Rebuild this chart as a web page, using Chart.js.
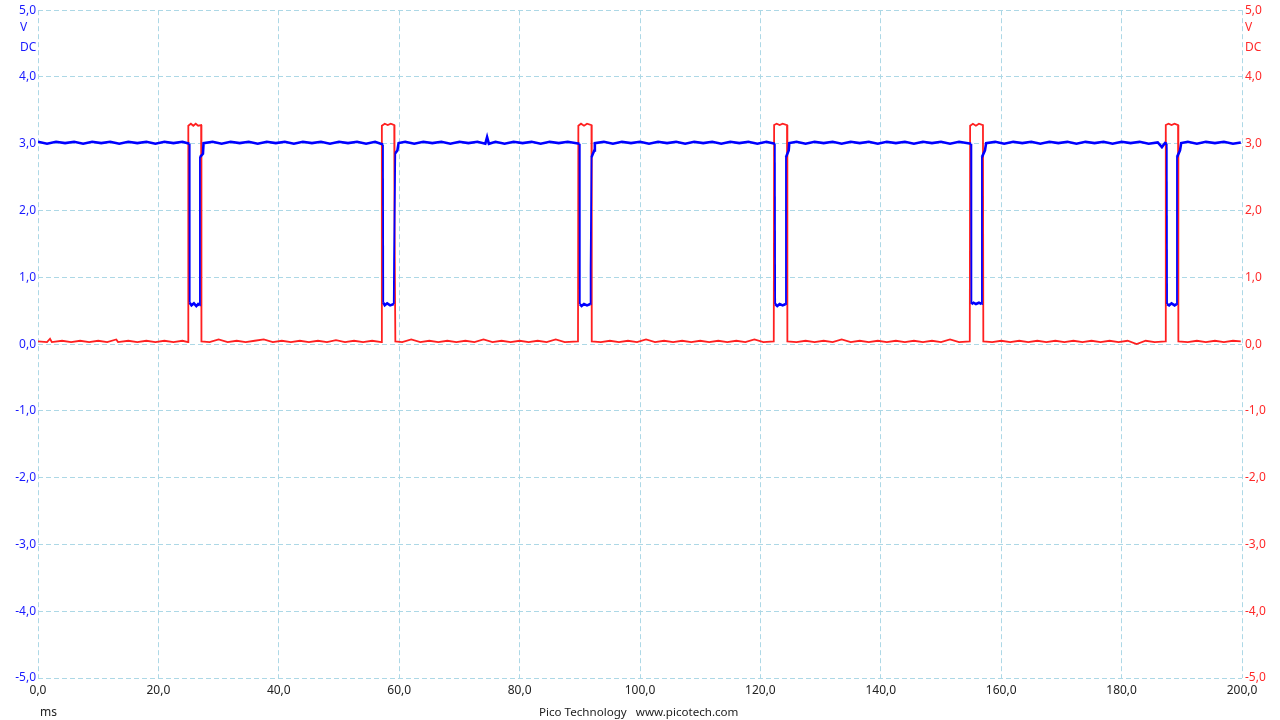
<!DOCTYPE html>
<html>
<head>
<meta charset="utf-8">
<script src="https://cdn.jsdelivr.net/npm/chart.js@4.4.1/dist/chart.umd.min.js"></script>
<style>
  html, body { margin: 0; padding: 0; background: #fff; }
  #wrap { position: relative; width: 1280px; height: 720px; font-family: "Noto Sans", sans-serif; font-size: 12px; }
  .lbl { position: absolute; line-height: 14px; white-space: pre; }
  .blue { color: #1a1aff; }
  .red { color: #ff2a2a; }
</style>
</head>
<body>
<div id="wrap">
  <canvas id="scopeChart" width="1280" height="720"></canvas>
  <div class="lbl blue" style="left: 20px; top: 20px">V</div>
  <div class="lbl blue" style="left: 20px; top: 40px">DC</div>
  <div class="lbl red" style="left: 1245px; top: 20px">V</div>
  <div class="lbl red" style="left: 1245px; top: 40px">DC</div>
  <div class="lbl" style="left: 40px; top: 705px; color: #222">ms</div>
  <div class="lbl" style="left: 539px; top: 705px; color: #222; font-size: 11.6px">Pico Technology   www.picotech.com</div>
</div>

<script>
  // time axis (ms) and voltage ticks
  const timeTicks = [0, 20, 40, 60, 80, 100, 120, 140, 160, 180, 200];
  const voltTicks = [-5, -4, -3, -2, -1, 0, 1, 2, 3, 4, 5];

  // channel A (blue) samples: [ms, V]
  const channelA = [
    [0, 3.03], [1.5, 3.0], [3, 3.03], [4.5, 3.01], [6, 3.03], [7.5, 3.0], [9, 3.03], [10.5, 3.01],
    [12, 3.03], [13.5, 3.0], [15, 3.03], [16.5, 3.01], [18, 3.03], [19.5, 3.0], [21, 3.03],
    [22.5, 3.01], [24, 3.03], [25.15, 3.0],
    [25.2, 0.62], [25.5, 0.58], [25.9, 0.61], [26.3, 0.57], [26.6, 0.6], [26.85, 0.58],
    [26.9, 2.8], [27.4, 2.85], [27.5, 3.01],
    [29, 3.03], [30.5, 3.0], [32, 3.03], [33.5, 3.01], [35, 3.03], [36.5, 3.0], [38, 3.03],
    [39.5, 3.01], [41, 3.03], [42.5, 3.0], [44, 3.03], [45.5, 3.01], [47, 3.03], [48.5, 3.0],
    [50, 3.03], [51.5, 3.01], [53, 3.03], [54.5, 3.0], [56, 3.03], [57.3, 2.99],
    [57.35, 0.62], [57.6, 0.58], [58, 0.61], [58.5, 0.58], [59.1, 0.6],
    [59.15, 1.26], [59.35, 2.86], [59.7, 2.9], [59.9, 3.01],
    [61, 3.03], [62.5, 3.0], [64, 3.03], [65.5, 3.01], [67, 3.03], [68.5, 3.0], [70, 3.03],
    [71.5, 3.01], [73, 3.03], [74.3, 3.0], [74.6, 3.1], [74.9, 3.0], [76, 3.03], [77.5, 3.0],
    [79, 3.03], [80.5, 3.01], [82, 3.03], [83.5, 3.0], [85, 3.03], [86.5, 3.01], [88, 3.03],
    [89.95, 3.0],
    [90.0, 0.6], [90.3, 0.57], [90.7, 0.6], [91.2, 0.58], [91.75, 0.6],
    [91.8, 1.14], [91.95, 2.8], [92.4, 2.9], [92.5, 3.01],
    [94, 3.03], [95.5, 3.0], [97, 3.03], [98.5, 3.01], [100, 3.03], [101.5, 3.0], [103, 3.03],
    [104.5, 3.01], [106, 3.03], [107.5, 3.0], [109, 3.03], [110.5, 3.01], [112, 3.03],
    [113.5, 3.0], [115, 3.03], [116.5, 3.01], [118, 3.03], [119.5, 3.0], [121, 3.03],
    [122.4, 3.0],
    [122.45, 0.6], [122.8, 0.57], [123.2, 0.6], [123.7, 0.58], [124.2, 0.6],
    [124.25, 2.8], [124.7, 2.9], [124.8, 3.01],
    [126, 3.03], [127.5, 3.0], [129, 3.03], [130.5, 3.01], [132, 3.03], [133.5, 3.0], [135, 3.03],
    [136.5, 3.01], [138, 3.03], [139.5, 3.0], [141, 3.03], [142.5, 3.01], [144, 3.03],
    [145.5, 3.0], [147, 3.03], [148.5, 3.01], [150, 3.03], [151.5, 3.0], [153, 3.03],
    [155.0, 3.0],
    [155.05, 0.6], [155.4, 0.62], [155.8, 0.6], [156.3, 0.62], [156.75, 0.6],
    [156.8, 2.8], [157.3, 2.9], [157.5, 3.01],
    [159, 3.03], [160.5, 3.0], [162, 3.03], [163.5, 3.01], [165, 3.03], [166.5, 3.0], [168, 3.03],
    [169.5, 3.01], [171, 3.03], [172.5, 3.0], [174, 3.03], [175.5, 3.01], [177, 3.03],
    [178.5, 3.0], [180, 3.03], [181.5, 3.01], [183, 3.03], [184.5, 3.0], [186, 3.02],
    [186.7, 2.95], [187.2, 3.01], [187.5, 3.0],
    [187.55, 0.6], [187.9, 0.58], [188.3, 0.61], [188.8, 0.58], [189.15, 0.6],
    [189.2, 2.8], [189.7, 2.9], [189.9, 3.01],
    [191, 3.03], [192.5, 3.0], [194, 3.03], [195.5, 3.01], [197, 3.03], [198.5, 3.0],
    [199.8, 3.02],
  ];

  // channel B (red) samples: [ms, V]
  const channelB = [
    [0, 0.04], [1.5, 0.03], [2, 0.08], [2.3, 0.03], [4, 0.05], [5.5, 0.03], [7, 0.05],
    [8.5, 0.03], [10, 0.05], [11.5, 0.03], [13, 0.07], [13.3, 0.03], [15, 0.05], [16.5, 0.03],
    [18, 0.05], [19.5, 0.03], [21, 0.05], [22.5, 0.03], [24, 0.05], [24.92, 0.03],
    [24.97, 3.27], [25.4, 3.3], [25.8, 3.27], [26.2, 3.3], [26.6, 3.27], [27.1, 3.28],
    [27.15, 0.04],
    [28.5, 0.03], [30, 0.07], [31.5, 0.03], [33, 0.05], [34.5, 0.03], [36, 0.05], [37.5, 0.07],
    [39, 0.03], [40.5, 0.05], [42, 0.03], [43.5, 0.05], [45, 0.03], [46.5, 0.05], [48, 0.03],
    [49.5, 0.06], [51, 0.03], [52.5, 0.05], [54, 0.03], [55.5, 0.05], [57.05, 0.03],
    [57.12, 3.27], [57.6, 3.3], [58.1, 3.28], [58.6, 3.3], [59.18, 3.28],
    [59.22, 1.93], [59.36, 0.04],
    [60.5, 0.03], [62, 0.07], [63.5, 0.03], [65, 0.05], [66.5, 0.03], [68, 0.05], [69.5, 0.03],
    [71, 0.05], [72.5, 0.03], [74, 0.07], [75.5, 0.03], [77, 0.05], [78.5, 0.03], [80, 0.05],
    [81.5, 0.03], [83, 0.05], [84.5, 0.03], [86, 0.07], [87.5, 0.03], [89.7, 0.04],
    [89.76, 3.27], [90.2, 3.3], [90.7, 3.27], [91.2, 3.3], [91.94, 3.28],
    [91.97, 2.45], [92.0, 0.04],
    [93.5, 0.03], [95, 0.05], [96.5, 0.03], [98, 0.05], [99.5, 0.03], [101, 0.07], [102.5, 0.03],
    [104, 0.05], [105.5, 0.03], [107, 0.05], [108.5, 0.03], [110, 0.05], [111.5, 0.03],
    [113, 0.05], [114.5, 0.03], [116, 0.05], [117.5, 0.03], [119, 0.07], [120.5, 0.03],
    [122.22, 0.04],
    [122.28, 3.28], [122.7, 3.3], [123.2, 3.28], [123.7, 3.3], [124.42, 3.28],
    [124.48, 0.04],
    [126, 0.03], [127.5, 0.05], [129, 0.03], [130.5, 0.05], [132, 0.03], [133.5, 0.07],
    [135, 0.03], [136.5, 0.05], [138, 0.03], [139.5, 0.05], [141, 0.03], [142.5, 0.05],
    [144, 0.03], [145.5, 0.05], [147, 0.03], [148.5, 0.05], [150, 0.03], [151.5, 0.07],
    [153, 0.03], [154.78, 0.04],
    [154.84, 3.27], [155.3, 3.3], [155.8, 3.27], [156.3, 3.3], [156.97, 3.28],
    [157.03, 0.04],
    [158.5, 0.03], [160, 0.05], [161.5, 0.03], [163, 0.05], [164.5, 0.03], [166, 0.05],
    [167.5, 0.03], [169, 0.05], [170.5, 0.03], [172, 0.05], [173.5, 0.03], [175, 0.05],
    [176.5, 0.03], [178, 0.05], [179.5, 0.03], [181, 0.05], [182.5, 0.0], [184, 0.05],
    [185.5, 0.03], [187.28, 0.04],
    [187.34, 3.28], [187.8, 3.3], [188.3, 3.28], [188.8, 3.3], [189.38, 3.28],
    [189.43, 0.04],
    [191, 0.03], [192.5, 0.05], [194, 0.03], [195.5, 0.05], [197, 0.03], [198.5, 0.05],
    [199.8, 0.04],
  ];

  function fmt(v) {
    return v.toFixed(1).replace(".", ",");
  }

  const gridStyle = { color: "#add8e6", lineWidth: 1, drawTicks: false };
  const borderStyle = { display: false, dash: [5, 3] };
  const font = { family: "'Noto Sans', sans-serif", size: 12 };

  new Chart(document.getElementById("scopeChart"), {
    type: "line",
    data: {
      datasets: [
        {
          label: "B",
          data: channelB.map((p) => ({ x: p[0], y: p[1] })),
          borderColor: "#ff2020",
          borderWidth: 1.8,
          pointRadius: 0,
          tension: 0,
          yAxisID: "y2",
          order: 2,
        },
        {
          label: "A",
          data: channelA.map((p) => ({ x: p[0], y: p[1] })),
          borderColor: "#0000ff",
          borderWidth: 2.2,
          pointRadius: 0,
          tension: 0,
          yAxisID: "y",
          order: 1,
          segment: {
            // thinner lines on the steep edges
            borderWidth: (ctx) => (Math.abs(ctx.p1.parsed.y - ctx.p0.parsed.y) > 0.5 ? 1.8 : 2.6),
          },
        },
      ],
    },
    options: {
      responsive: false,
      animation: false,
      layout: { padding: { top: 10, left: 0, right: 0, bottom: 0 } },
      plugins: { legend: { display: false }, tooltip: { enabled: false } },
      scales: {
        x: {
          type: "linear",
          min: 0,
          max: 200,
          afterBuildTicks: (s) => { s.ticks = timeTicks.map((v) => ({ value: v })); },
          afterFit: (s) => { s.height = 42; },
          grid: gridStyle,
          border: borderStyle,
          ticks: { callback: (v) => fmt(v), color: "#222", font, padding: 5, maxRotation: 0 },
        },
        y: {
          position: "left",
          min: -5,
          max: 5,
          afterBuildTicks: (s) => { s.ticks = voltTicks.map((v) => ({ value: v })); },
          afterFit: (s) => { s.width = 38; },
          grid: gridStyle,
          border: borderStyle,
          ticks: { callback: (v) => fmt(v), color: "#1a1aff", font, padding: 2 },
        },
        y2: {
          position: "right",
          min: -5,
          max: 5,
          afterBuildTicks: (s) => { s.ticks = voltTicks.map((v) => ({ value: v })); },
          afterFit: (s) => { s.width = 38; },
          grid: { display: false, drawTicks: false },
          border: { display: false },
          ticks: { callback: (v) => fmt(v), color: "#ff2a2a", font, padding: 3 },
        },
      },
    },
  });
</script>
</body>
</html>
